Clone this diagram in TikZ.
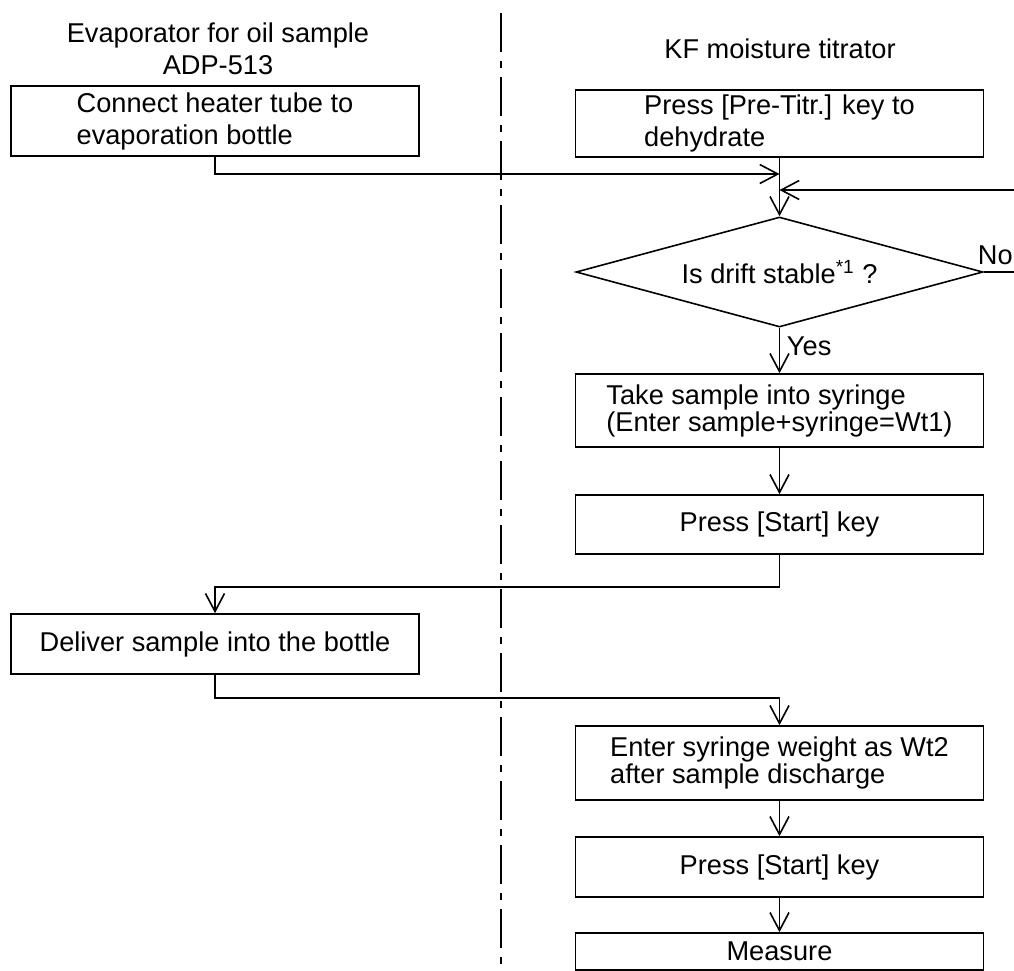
\documentclass[tikz,border=0pt]{standalone}
\usepackage{fontspec}
\setmainfont{Liberation Sans}
\usetikzlibrary{shapes.geometric, arrows.meta}

\begin{document}
\begin{tikzpicture}[x=0.5pt, y=-0.5pt, line width=0.8pt,
    every node/.style={font=\fontsize{13.6}{16}\selectfont},
    box/.style={draw, rectangle, inner sep=0pt, align=left, minimum width=204pt},
    flow/.style={-{Straight Barb[length=9pt, width=9.5pt]}}]
    \useasboundingbox (0, 0) rectangle (1014, 971);
    \clip (0, 0) rectangle (1014, 971);

    % lane divider
    \draw[line width=1pt, dash pattern=on 19.5pt off 4.5pt on 3.5pt off 4.5pt] (501, 13) -- (501, 965);

    \node[align=center] at (218, 49) (evap) {Evaporator for oil sample\\ADP-513};
    \node at (780, 48.5) (kf) {KF moisture titrator};

    \node[box, minimum height=35pt] at (215, 121) (conn) {Connect heater tube to\\evaporation bottle};
    \node[box, minimum height=33.5pt] at (779.5, 123.5) (pretitr) {Press [Pre-Titr.] key to\\dehydrate};
    \node[draw, diamond, aspect=3.7, inner sep=0pt, minimum width=203.5pt, minimum height=55pt] at (779.5, 272) (drift) {Is drift stable\textsuperscript{*1} ?};
    \node[box, minimum height=36.5pt] at (779.5, 410.5) (take) {Take sample into syringe\\[-2.5pt](Enter sample+syringe=Wt1)};
    \node[box, minimum height=29.5pt] at (779.5, 524.5) (start1) {Press [Start] key};
    \node[box, minimum height=30pt] at (215, 644) (deliver) {Deliver sample into the bottle};
    \node[box, minimum height=37pt] at (779.5, 763) (enter) {Enter syringe weight as Wt2\\[-2.8pt]after sample discharge};
    \node[box, minimum height=30pt] at (779.5, 867) (start2) {Press [Start] key};
    \node[box, minimum height=18.5pt] at (779.5, 951.5) (measure) {Measure};

    \coordinate (join1) at (779.5, 174);
    \coordinate (join2) at (779.5, 190);
    \coordinate (loop) at (1030, 272);
    \coordinate (turn1) at (779.5, 587);
    \coordinate (turn2) at (215, 698);

    \draw[flow] (pretitr) -- (drift);
    \draw[flow] (conn) |- (join1);
    \draw[flow] (drift) -- node[above, pos=0.25] (no) {No} (loop) |- (join2);
    \draw[flow] (drift) -- node[right, pos=0.4] (yes) {Yes} (take);
    \draw[flow] (take) -- (start1);
    \draw[flow] (start1) -- (turn1) -| (deliver);
    \draw[flow] (deliver) -- (turn2) -| (enter);
    \draw[flow] (enter) -- (start2);
    \draw[flow] (start2) -- (measure);
\end{tikzpicture}
\end{document}
